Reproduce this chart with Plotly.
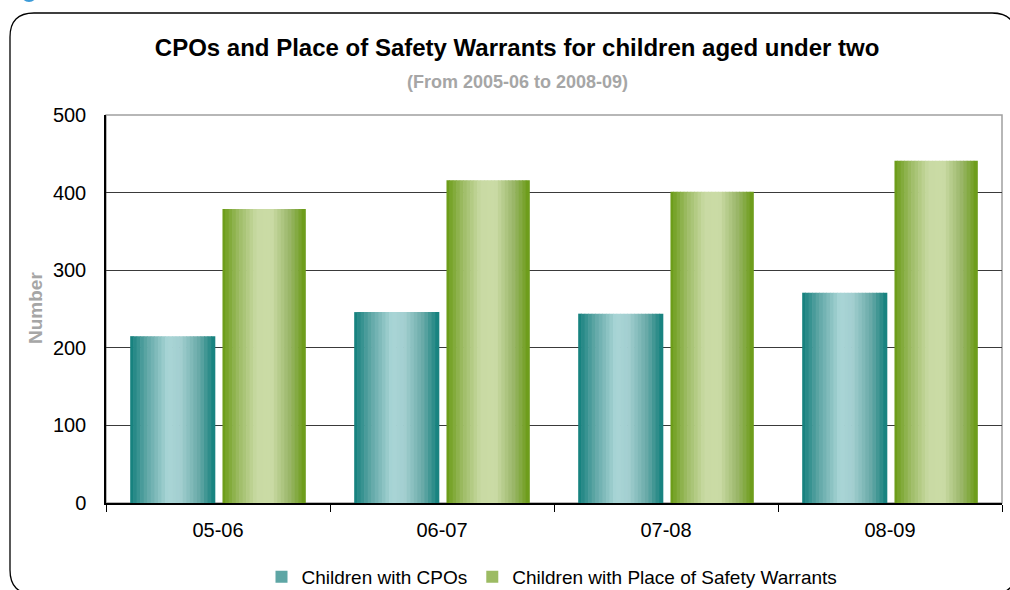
import plotly.graph_objects as go

categories = ["05-06", "06-07", "07-08", "08-09"]
cpos = [215, 246, 244, 271]
warrants = [379, 416, 401, 441]

W, H = 1010, 590
ML, MR, MT, MB = 106, 8, 115, 87
PW, PH = W - ML - MR, H - MT - MB


def px_x(px):
    return (px - ML) / PW


def px_y(py):
    return (H - MB - py) / PH


def hex2rgb(h):
    h = h.lstrip("#")
    return tuple(int(h[i:i + 2], 16) for i in (0, 2, 4))


def shade(stops, t):
    for (t0, c0), (t1, c1) in zip(stops, stops[1:]):
        if t0 <= t <= t1:
            f = (t - t0) / (t1 - t0) if t1 > t0 else 0
            a, b = hex2rgb(c0), hex2rgb(c1)
            r = [round(a[k] + (b[k] - a[k]) * f) for k in range(3)]
            return "rgb(%d,%d,%d)" % tuple(r)
    return stops[-1][1]


teal = [(0, "#0F7E7B"), (0.2, "#5EA6A5"), (0.45, "#A9D5D6"), (0.6, "#A3CFD0"),
        (0.82, "#67A9A7"), (1, "#0F7E7B")]
green = [(0, "#689A12"), (0.2, "#9CBB63"), (0.42, "#C9DAA4"), (0.6, "#CADBA5"),
         (0.82, "#98B566"), (1, "#689A12")]

fig = go.Figure()

N = 24


def add_gradient_bars(values, name, stops, offset, width, legend_color):
    step = width / N
    for i in range(N):
        eps = 0.003 if i > 0 else 0
        fig.add_trace(go.Bar(
            x=categories, y=values,
            offset=offset + i * step - eps, width=step + eps,
            marker=dict(color=shade(stops, (i + 0.5) / N), line=dict(width=0)),
            showlegend=False, hoverinfo="skip",
        ))
    # legend entry
    fig.add_trace(go.Bar(
        x=[None], y=[None], name=name,
        marker=dict(color=legend_color, line=dict(width=0)),
    ))


add_gradient_bars(cpos, "Children with CPOs", teal, -0.392, 0.38, "#5EA6A5")
add_gradient_bars(warrants, "Children with Place of Safety Warrants", green, 0.02, 0.372, "#9CBB63")

shapes = []
# plot area border
shapes.append(dict(type="rect", xref="paper", yref="paper", x0=0, x1=1, y0=0, y1=1,
                   line=dict(color="#A0A0A0", width=1.5), layer="below"))

# rounded outer frame
x0, x1, y0, y1, r = 10, 1016, 13, 594, 24
path = (f"M {px_x(x0)},{px_y(y0 + r)} "
        f"Q {px_x(x0)},{px_y(y0)} {px_x(x0 + r)},{px_y(y0)} "
        f"L {px_x(x1 - r)},{px_y(y0)} "
        f"Q {px_x(x1)},{px_y(y0)} {px_x(x1)},{px_y(y0 + r)} "
        f"L {px_x(x1)},{px_y(y1 - r)} "
        f"Q {px_x(x1)},{px_y(y1)} {px_x(x1 - r)},{px_y(y1)} "
        f"L {px_x(x0 + r)},{px_y(y1)} "
        f"Q {px_x(x0)},{px_y(y1)} {px_x(x0)},{px_y(y1 - r)} Z")
shapes.append(dict(type="path", xref="paper", yref="paper", path=path,
                   line=dict(color="#000000", width=1.3)))
# small blue mark at the top left
shapes.append(dict(type="circle", xref="paper", yref="paper",
                   x0=px_x(21), x1=px_x(37), y0=px_y(2), y1=px_y(-14),
                   fillcolor="#3C9BD8", line=dict(width=0)))

fig.update_layout(
    width=W, height=H,
    margin=dict(l=ML, r=MR, t=MT, b=MB, autoexpand=False),
    paper_bgcolor="white", plot_bgcolor="white",
    barmode="overlay",
    font=dict(family="Liberation Sans, Arial, sans-serif", size=20, color="#000000"),
    title=dict(text="<b>CPOs and Place of Safety Warrants for children aged under two</b>",
               x=0.512, xanchor="center", yref="container", y=1 - 48 / H, yanchor="middle",
               font=dict(size=24, color="#000000")),
    showlegend=True,
    legend=dict(orientation="h", xref="container", x=552 / W, xanchor="center",
                yref="container", y=1 - 577 / H, yanchor="middle",
                font=dict(size=19), bgcolor="rgba(0,0,0,0)", traceorder="normal"),
    shapes=shapes,
    annotations=[
        dict(text="<b>(From 2005-06 to 2008-09)</b>", xref="paper", yref="paper",
             x=px_x(517), y=px_y(82), showarrow=False, xanchor="center", yanchor="middle",
             font=dict(size=18, color="#A6A6A6")),
        dict(text="<b>Number</b>", xref="paper", yref="paper", x=px_x(35), y=px_y(308),
             textangle=-90, showarrow=False, xanchor="center", yanchor="middle",
             font=dict(size=19, color="#A6A6A6")),
    ],
)

fig.update_xaxes(
    type="category", showline=True, linecolor="#000000", linewidth=1.5,
    ticks="outside", tickson="boundaries", ticklen=7, tickcolor="#000000",
    ticklabelstandoff=8,
    showgrid=False, tickfont=dict(size=20), range=[-0.5, 3.5],
)
fig.update_yaxes(
    range=[0, 500], dtick=100, showline=True, linecolor="#000000", linewidth=1.5,
    ticks="", ticklabelstandoff=14,
    showgrid=True, gridcolor="#3A3A3A", gridwidth=1.2, zeroline=False,
    tickfont=dict(size=20),
)

fig.write_html("out.html", config={"displayModeBar": False},
               post_script="document.body.style.margin='0';")
